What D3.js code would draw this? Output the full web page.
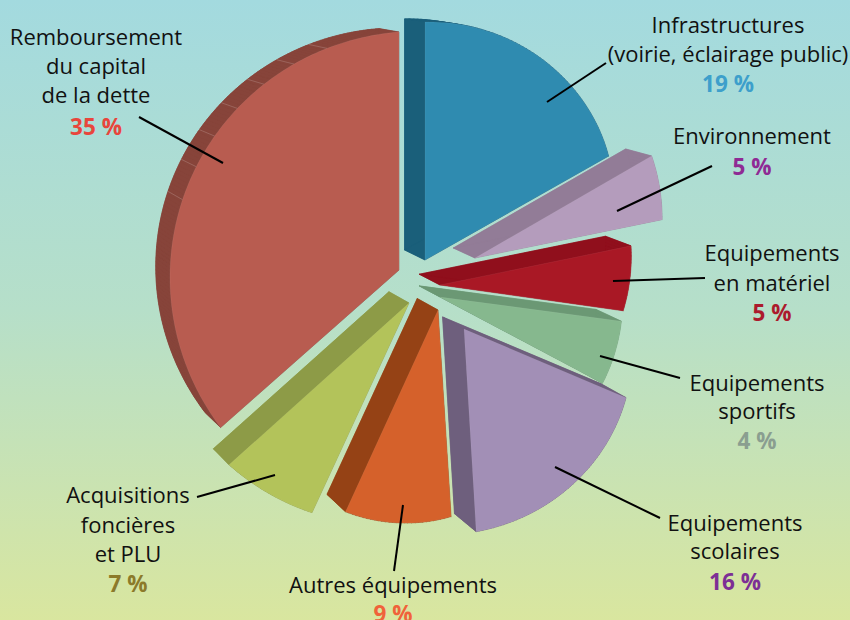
<!DOCTYPE html>
<html><head><meta charset="utf-8">
<style>html,body{margin:0;padding:0;background:#fff;overflow:hidden}svg{display:block}text{font-family:"Open Sans",sans-serif}</style>
<script src="https://cdn.jsdelivr.net/npm/d3@7"></script></head>
<body><svg id="c" width="850" height="620"></svg>
<script>
// data
const categories = ["Infrastructures","Environnement","Equipements en matériel","Equipements sportifs","Equipements scolaires","Autres équipements","Acquisitions foncières et PLU","Remboursement du capital de la dette"];
const values = [19,5,5,4,16,9,7,35];
const labelLines = [["Infrastructures","(voirie, éclairage public)"],["Environnement"],["Equipements","en matériel"],["Equipements","sportifs"],["Equipements","scolaires"],["Autres équipements"],["Acquisitions","foncières","et PLU"],["Remboursement","du capital","de la dette"]];
const faceColors = ["#2f8bb0","#b49cbc","#a91825","#86b88e","#a28fb6","#d5612b","#b3c35a","#b85c50"];
const sideColors = ["#1a5f7a","#927c97","#900f1c","#6b9874","#6e5f7d","#954215","#8d9b47","#87443a"];
const pctColors  = ["#3d9fcb","#8f2a94","#ac1a2d","#8a9e90","#7d2f95","#f0623a","#8c7a2a","#e8453c"];

// layout: perspective of the exploded slices
const centre = [420,290];
const explode = [[5,-30],[55,-32],[20,-5],[20,7],[44,39],[18,20],[-11,13],[-21,-20]];
const rimStart = [238,204,195,183,176,207,231,238];
const rimEnd   = [211,191,185,184,203,222,242,238];
const rimBulge = [8,0,0,0,0,2,0,-10.5];
const angleFixStart = [0,-1.9,-1,0,.3,.4,-.6,.2];
const angleFixEnd   = [-1.4,-1,.4,5.3,.6,-.8,-.3,0];
const skew = 7;
const labelX = [728,752,772,757,735,393,128,96];
const labelY = [[33,62,92],[144,175],[261,291,321],[391,419,449],[531,559,590],[593,622],[503,533,562,592],[45,74,103,135]];
const leaders = [[547,102,606,63],[617,211,712,166],[613,281,705,278],[600,356,680,378],[555,467,660,518],[403,505,394,571],[275,475,197,497],[223,163,139,117]];
const rimTicks = d3.range(288,345,9);

const svg = d3.select("#c");
const defs = svg.append("defs");
const g = defs.append("linearGradient").attr("id","bg").attr("x1",0).attr("y1",0).attr("x2",0).attr("y2",1);
[[0,"#a3dadf"],[.5,"#b6dfc9"],[1,"#d9e69f"]].forEach(s=>g.append("stop").attr("offset",s[0]).attr("stop-color",s[1]));
svg.append("rect").attr("width",850).attr("height",620).attr("fill","url(#bg)");

const pie = d3.pie().sort(null).startAngle(0).endAngle(2*Math.PI);
const arcs = pie(values);
const deg = 180/Math.PI;
const warp = t => t - skew*Math.abs(Math.sin(t/deg));
const depthX = d3.scaleLinear().domain([169,652]).range([-14.2,-26]);
const depthY = d3.scaleLinear().domain([22,532]).range([-3.1,-18]);
const back = p => [p[0]+depthX(p[0]), p[1]+depthY(p[1])];
const line = d3.line();

arcs.forEach((a,i)=>{
  const ax = centre[0]+explode[i][0], ay = centre[1]+explode[i][1];
  const p0 = warp(a.startAngle*deg)+angleFixStart[i];
  const p1 = warp(a.endAngle*deg)+angleFixEnd[i];
  const rim = t => {
    const phi = (p0+(p1-p0)*t)/deg;
    const r = rimStart[i]+(rimEnd[i]-rimStart[i])*t+4*rimBulge[i]*t*(1-t);
    return [ax+r*Math.sin(phi), ay-r*Math.cos(phi)];
  };
  const n = Math.ceil(p1-p0);
  const outline = [[ax,ay]].concat(d3.range(n+1).map(k=>rim(k/n)));
  const sl = svg.append("g").attr("class","slice").datum(categories[i]);
  sl.append("path").attr("d",line(outline.map(back))+"Z").attr("fill",sideColors[i]).attr("stroke",sideColors[i]).attr("stroke-width",.5);
  outline.forEach((p,k)=>{
    const q = outline[(k+1)%outline.length];
    sl.append("path").attr("d",line([p,q,back(q),back(p)])+"Z").attr("fill",sideColors[i]).attr("stroke",sideColors[i]).attr("stroke-width",.5);
  });
  if(i===7){
    rimTicks.forEach(ph=>{
      const p = rim((ph-p0)/(p1-p0));
      sl.append("path").attr("d",line([p,back(p)])).attr("stroke","#fff").attr("stroke-opacity",.22).attr("stroke-width",.8).attr("fill","none");
    });
  }
  sl.append("path").attr("d",line(outline)+"Z").attr("fill",faceColors[i]).attr("stroke","#fff").attr("stroke-opacity",.1).attr("stroke-width",.6);
});

leaders.forEach(l=>svg.append("line").attr("x1",l[0]).attr("y1",l[1]).attr("x2",l[2]).attr("y2",l[3]).attr("stroke","#000").attr("stroke-width",2));

labelLines.forEach((lines,i)=>{
  lines.forEach((t,k)=>svg.append("text").attr("x",labelX[i]).attr("y",labelY[i][k]).attr("text-anchor","middle").attr("font-size",22).attr("fill","#111").text(t));
  svg.append("text").attr("x",labelX[i]).attr("y",labelY[i][lines.length]).attr("text-anchor","middle").attr("font-size",22.5).attr("font-weight",700).attr("fill",pctColors[i]).text(values[i]+" %");
});
</script></body></html>
